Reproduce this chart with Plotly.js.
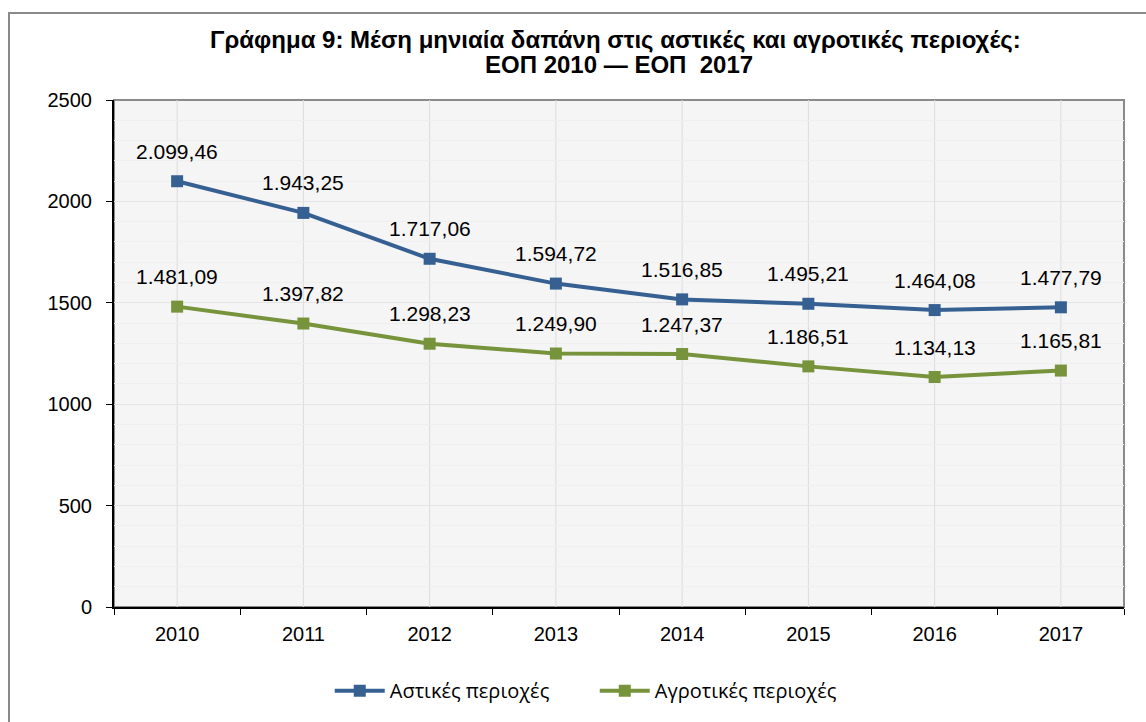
<!DOCTYPE html>
<html>
<head>
<meta charset="utf-8">
<script src="https://cdn.plot.ly/plotly-3.0.1.min.js"></script>
<style>
  html, body { margin: 0; padding: 0; background: #fff; overflow: hidden; }
  #chart { position: absolute; left: 0; top: 0; width: 1146px; height: 722px; }
  #frame { position: absolute; left: 8px; top: 12px; width: 1200px; height: 800px;
           border: 2px solid #8a8a8a; pointer-events: none; }
</style>
</head>
<body>
<div id="chart"></div>
<div id="frame"></div>
<script>
  var years = ['2010', '2011', '2012', '2013', '2014', '2015', '2016', '2017'];
  var urban = [2099.46, 1943.25, 1717.06, 1594.72, 1516.85, 1495.21, 1464.08, 1477.79];
  var rural = [1481.09, 1397.82, 1298.23, 1249.90, 1247.37, 1186.51, 1134.13, 1165.81];
  var urbanName = 'Αστικές περιοχές';
  var ruralName = 'Αγροτικές περιοχές';
  var titleLine1 = 'Γράφημα 9: Μέση μηνιαία δαπάνη στις αστικές και αγροτικές περιοχές:';
  var titleLine2 = 'ΕΟΠ 2010 — ΕΟΠ  2017';

  var BLUE = '#366092';
  var GREEN = '#77933c';
  var FONT = 'Liberation Sans, Arial, sans-serif';

  // 2099.46 -> "2.099,46"
  function fmtGr(v) {
    var parts = v.toFixed(2).split('.');
    var intPart = parts[0].replace(/\B(?=(\d{3})+(?!\d))/g, '.');
    return intPart + ',' + parts[1];
  }

  function series(vals, name, color) {
    return {
      x: years, y: vals, name: name,
      type: 'scatter', mode: 'lines+markers',
      line: {color: color, width: 4},
      marker: {symbol: 'square', size: 12, color: color},
      hoverinfo: 'skip'
    };
  }

  // category axis: annotations/shapes take the category index
  function labels(vals) {
    return vals.map(function(v, i) {
      return {
        x: i, y: v, xref: 'x', yref: 'y',
        text: fmtGr(v), showarrow: false, yshift: 30,
        font: {family: FONT, size: 21, color: '#000'}
      };
    });
  }

  // vertical gridlines sit on the category centres, ticks on boundaries
  var vgrid = years.map(function(y, i) {
    return {type: 'line', xref: 'x', yref: 'y', x0: i, x1: i, y0: 0, y1: 2500,
            layer: 'below', line: {color: '#dcdcdc', width: 1}};
  });

  // second title line as its own annotation, so the line spacing stays tight
  var subTitle = {
    xref: 'paper', yref: 'paper', x: 0.5, y: 1 + 36 / 510,
    xanchor: 'center', yanchor: 'middle', showarrow: false,
    text: '<b>' + titleLine2 + '</b>',
    font: {family: FONT, size: 24, color: '#000'}
  };

  var layout = {
    width: 1146, height: 722,
    margin: {l: 114, r: 22, t: 100, b: 112},
    paper_bgcolor: '#fff', plot_bgcolor: '#f5f5f5',
    font: {family: FONT, size: 20, color: '#000'},
    title: {
      text: '<b>' + titleLine1 + '</b>',
      font: {family: FONT, size: 24, color: '#000'},
      x: 0.537, xanchor: 'center', y: 1 - 40 / 722, yanchor: 'middle'
    },
    xaxis: {
      type: 'category', range: [-0.5, 7.5], tickson: 'boundaries',
      showgrid: false, ticks: 'outside', ticklen: 6, tickcolor: '#000',
      showline: true, linecolor: '#000', linewidth: 2,
      ticklabelstandoff: 8,
      tickfont: {size: 20}, fixedrange: true
    },
    yaxis: {
      range: [0, 2500], dtick: 500, showgrid: true, gridcolor: '#e4e4e4',
      ticks: 'outside', ticklen: 6, tickcolor: '#000',
      showline: true, linecolor: '#000', linewidth: 2, zeroline: false,
      minor: {dtick: 100, showgrid: true, gridcolor: '#efefef'},
      ticklabelstandoff: 10,
      tickfont: {size: 20}, fixedrange: true
    },
    shapes: vgrid.concat([{
      type: 'rect', xref: 'paper', yref: 'paper', x0: 0, x1: 1, y0: 0, y1: 1,
      line: {color: '#8a8a8a', width: 2}, layer: 'below'
    }]),
    annotations: [subTitle].concat(labels(urban), labels(rural)),
    showlegend: true,
    legend: {
      orientation: 'h', x: 0.476, xanchor: 'center', y: -0.165, yanchor: 'middle',
      font: {family: 'Open Sans, Liberation Sans, sans-serif', size: 20},
      itemwidth: 50, entrywidth: 200, entrywidthmode: 'pixels',
      tracegroupgap: 0, bgcolor: 'rgba(0,0,0,0)'
    }
  };

  Plotly.newPlot('chart',
    [series(urban, urbanName, BLUE), series(rural, ruralName, GREEN)],
    layout, {staticPlot: true, displayModeBar: false});
</script>
</body>
</html>
